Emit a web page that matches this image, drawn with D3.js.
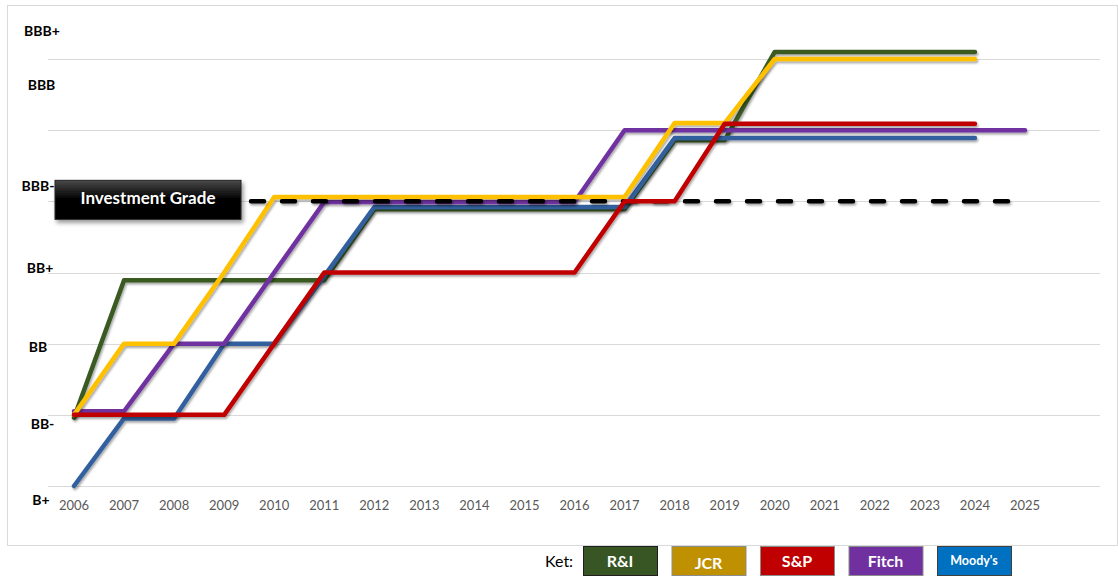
<!DOCTYPE html>
<html lang="en">
<head>
    <meta charset="UTF-8">
    <title>Credit ratings</title>
    <style>
        body{ margin:0; background:#fff; }
        svg{ font-family: Lato, "Open Sans", sans-serif; }
        .grid line{ stroke:#d9d9d9; stroke-width:1; shape-rendering: crispEdges; }
        .yLabel{ font-weight:bold; font-size:14px; fill:#000; text-anchor: middle; }
        .xLabel{ font-size:13px; fill:#595959; text-anchor: middle; }
        .legendText{ fill:#fff; font-weight:bold; text-anchor: middle; }
    </style>
    <script type="text/javascript" src="https://cdn.jsdelivr.net/npm/d3@7"></script>
</head>
<body>
    <script>
        // data
        var years = [2006,2007,2008,2009,2010,2011,2012,2013,2014,2015,2016,2017,2018,2019,2020,2021,2022,2023,2024,2025];
        var ratingLabels = ["B+","BB-","BB","BB+","BBB-","BBB","BBB+"];   // 0..6 notches
        var agencies = ["R&I","JCR","S&P","Fitch","Moody's"];
        var rAndI   = [0.96,2.89,2.89,2.89,2.89,2.89,3.89,3.89,3.89,3.89,3.89,3.89,4.86,4.86,6.1,6.1,6.1,6.1,6.1];
        var jcr     = [1.0,2.0,2.0,3.0,4.06,4.06,4.06,4.06,4.06,4.06,4.06,4.06,5.1,5.1,6.0,6.0,6.0,6.0,6.0];
        var sp      = [1.0,1.0,1.0,1.0,2.0,3.0,3.0,3.0,3.0,3.0,3.0,4.0,4.0,5.09,5.09,5.09,5.09,5.09,5.09];
        var fitch   = [1.05,1.05,2.0,2.0,3.0,3.99,3.99,3.99,3.99,3.99,3.99,5.0,5.0,5.0,5.0,5.0,5.0,5.0,5.0,5.0];
        var moodys  = [0,0.95,0.95,2.0,2.0,2.95,3.92,3.92,3.92,3.92,3.92,3.92,4.89,4.89,4.89,4.89,4.89,4.89,4.89];
        var investmentGrade = 4;   // BBB-
        var investmentLabel = "Investment Grade";

        var width = 1118;
        var height = 576;
        var svg = d3.select("body")
                .append("svg")
                .attr("width",width)
                .attr("height",height)

        // shadows (user space so flat horizontal lines still render)
        var defs = svg.append("defs");
        defs.append("filter").attr("id","lineShadow")
                .attr("filterUnits","userSpaceOnUse")
                .attr("x",0).attr("y",0).attr("width",width).attr("height",height)
                .append("feDropShadow")
                .attr("dx",1.2).attr("dy",2)
                .attr("stdDeviation",1.2)
                .attr("flood-color","#000")
                .attr("flood-opacity",0.35)
        defs.append("filter").attr("id","boxShadow")
                .attr("filterUnits","userSpaceOnUse")
                .attr("x",0).attr("y",0).attr("width",width).attr("height",height)
                .append("feDropShadow")
                .attr("dx",2).attr("dy",3)
                .attr("stdDeviation",2)
                .attr("flood-color","#000")
                .attr("flood-opacity",0.4)
        var grad = defs.append("linearGradient").attr("id","boxGrad")
                .attr("x1",0).attr("y1",0).attr("x2",0).attr("y2",1)
        grad.append("stop").attr("offset","0%").attr("stop-color","#4a4a4a")
        grad.append("stop").attr("offset","45%").attr("stop-color","#050505")
        grad.append("stop").attr("offset","100%").attr("stop-color","#000")

        // outer border
        svg.append("rect")
                .attr("x",7.5).attr("y",5.5)
                .attr("width",1110).attr("height",540)
                .attr("fill","none")
                .attr("stroke","#d9d9d9")

        // scales
        var xScale = d3.scaleLinear()
                .domain([2006,2025])
                .range([74,1025])
        var yScale = d3.scaleLinear()
                .domain([0,6])
                .range([486,59])

        // grid lines
        svg.append("g")
                .attr("class","grid")
                .selectAll("line")
                .data(d3.range(ratingLabels.length))
                .enter()
                .append("line")
                .attr("x1",48).attr("x2",1100)
                .attr("y1",function(d){ return Math.round(yScale(d))+0.5; })
                .attr("y2",function(d){ return Math.round(yScale(d))+0.5; })

        // y labels (placed like the hand-made text boxes of the original)
        var labelNudge = [14,9,3,-4,-15,-45,-28];
        var labelX = [41,42.5,38,40,38,41.5,42];
        svg.selectAll(".yLabel")
                .data(ratingLabels)
                .enter()
                .append("text")
                .attr("class","yLabel")
                .attr("x",function(d,i){ return labelX[i]; })
                .attr("y",function(d,i){ return yScale(i)+labelNudge[i]; })
                .attr("dy","0.35em")
                .text(function(d){ return d; })

        // x labels
        svg.selectAll(".xLabel")
                .data(years)
                .enter()
                .append("text")
                .attr("class","xLabel")
                .attr("x",function(d){ return xScale(d); })
                .attr("y",505)
                .attr("dy","0.35em")
                .text(function(d){ return d; })

        var line = d3.line()
                .x(function(d){ return xScale(d.year); })
                .y(function(d){ return yScale(d.value); })

        function toPoints(arr){
            return arr.map(function(v,i){ return {year:years[i], value:v}; });
        }

        var lineColors = {"R&I":"#3a5a24","JCR":"#ffc000","S&P":"#c00000","Fitch":"#7030a0","Moody's":"#33609f"};
        var seriesData = {"R&I":rAndI,"JCR":jcr,"S&P":sp,"Fitch":fitch,"Moody's":moodys};

        function drawSeries(name){
            svg.append("path")
                    .attr("d",line(toPoints(seriesData[name])))
                    .attr("fill","none")
                    .attr("stroke",lineColors[name])
                    .attr("stroke-width",4.5)
                    .attr("stroke-linejoin","round")
                    .attr("stroke-linecap","round")
                    .attr("filter","url(#lineShadow)")
        }

        // draw order follows the overlaps in the original
        ["R&I","Moody's","Fitch","JCR"].forEach(drawSeries)

        // investment grade threshold (dashed)
        svg.append("path")
                .attr("d",line(years.map(function(y){ return {year:y, value:investmentGrade}; })))
                .attr("fill","none")
                .attr("stroke","#000")
                .attr("stroke-width",4.5)
                .attr("stroke-linecap","round")
                .attr("stroke-dasharray","13,18")
                .attr("stroke-dashoffset",-22)
                .attr("filter","url(#lineShadow)")

        drawSeries("S&P")

        // "Investment Grade" box
        var boxY = yScale(investmentGrade);
        svg.append("rect")
                .attr("x",55).attr("y",boxY-21)
                .attr("width",186).attr("height",39)
                .attr("fill","url(#boxGrad)")
                .attr("stroke","#262626")
                .attr("filter","url(#boxShadow)")
        svg.append("text")
                .attr("x",148).attr("y",boxY-3)
                .attr("dy","0.35em")
                .attr("text-anchor","middle")
                .attr("fill","#fff")
                .attr("font-weight","bold")
                .attr("font-size","17px")
                .text(investmentLabel)

        // legend
        var legendColors = ["#375623","#bf9000","#c00000","#7030a0","#0070c0"];
        var legendBorder = ["#1f1f1f","#8c8c8c","#8c8c8c","#8c8c8c","#404040"];
        var legendX = d3.scalePoint()
                .domain(agencies)
                .range([583,937])

        svg.append("text")
                .attr("x",545).attr("y",561)
                .attr("dy","0.35em")
                .attr("font-size","16px")
                .attr("fill","#000")
                .text("Ket:")

        var items = svg.selectAll(".legendItem")
                .data(agencies)
                .enter()
                .append("g")
                .attr("class","legendItem")
                .attr("transform",function(d){ return "translate("+legendX(d)+",546)"; })
        items.append("rect")
                .attr("x",0.5).attr("y",0.5)
                .attr("width",74).attr("height",29)
                .attr("fill",function(d,i){ return legendColors[i]; })
                .attr("stroke",function(d,i){ return legendBorder[i]; })
        items.append("text")
                .attr("class","legendText")
                .attr("x",37)
                .attr("y",function(d){ return d=="JCR" ? 17 : 15; })
                .attr("dy","0.35em")
                .attr("font-size",function(d){ return d=="Moody's" ? "12.5px" : "16px"; })
                .text(function(d){ return d; })
    </script>
</body>
</html>
